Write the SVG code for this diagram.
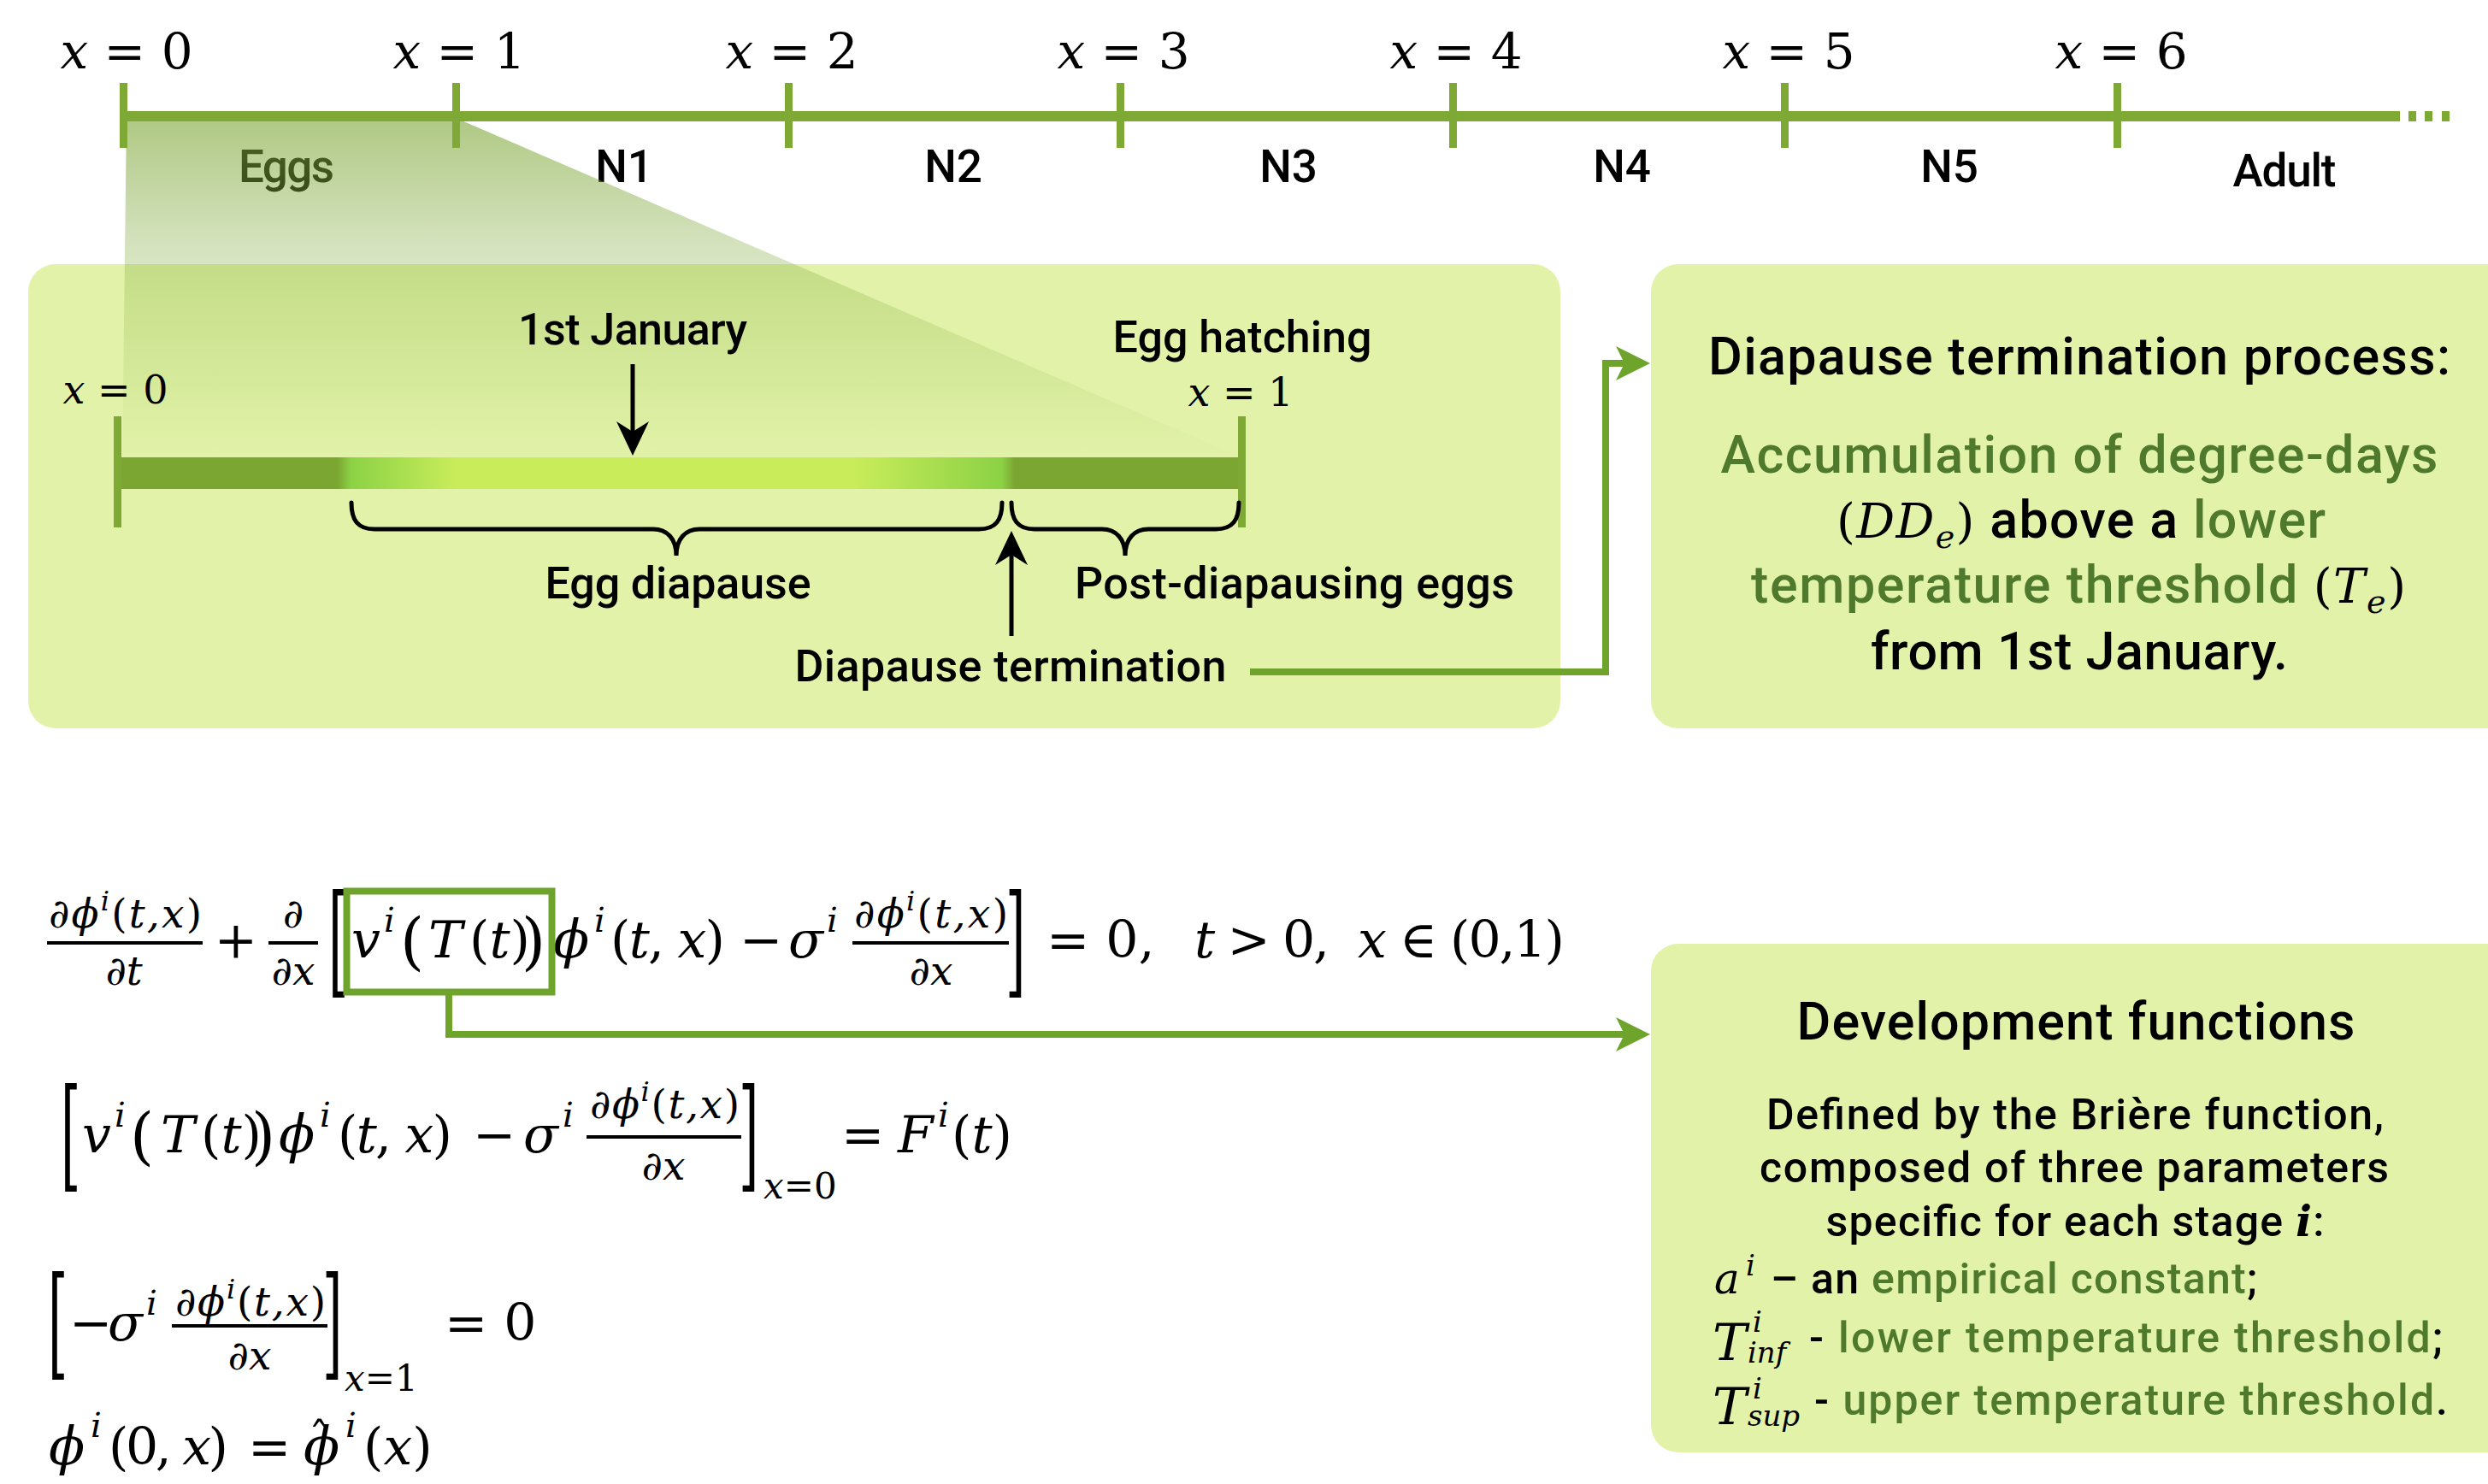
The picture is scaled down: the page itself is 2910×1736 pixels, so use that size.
<svg xmlns="http://www.w3.org/2000/svg" width="2910" height="1736" viewBox="0 0 2910 1736">
<defs>
<style>
.sans{font-family:Roboto,"DejaVu Sans",sans-serif;font-weight:500;fill:#000}
.m{font-family:"DejaVu Serif","Liberation Serif",serif;fill:#000}
.i{font-style:italic}
.g{fill:#4f7a2e}
.ax{fill:#7fa935}
.box{fill:#e2f3a9}
.conn{fill:none;stroke:#6ea42c;stroke-width:8}
.blk{fill:none;stroke:#000;stroke-width:5}
.brace{fill:none;stroke:#000;stroke-width:5;stroke-linecap:round}
</style>
<linearGradient id="zoomFade" gradientUnits="userSpaceOnUse" x1="0" y1="136" x2="0" y2="540">
<stop offset="0" stop-color="#7fa83a" stop-opacity="0.63"/>
<stop offset="0.36" stop-color="#7fa83a" stop-opacity="0.34"/>
<stop offset="1" stop-color="#7fa83a" stop-opacity="0"/>
</linearGradient>
<linearGradient id="barGrad" gradientUnits="userSpaceOnUse" x1="137" y1="0" x2="1452" y2="0">
<stop offset="0" stop-color="#7ba632"/>
<stop offset="0.196" stop-color="#7ba632"/>
<stop offset="0.208" stop-color="#8cd245"/>
<stop offset="0.3" stop-color="#c8ec5a"/>
<stop offset="0.657" stop-color="#c8ec5a"/>
<stop offset="0.787" stop-color="#8cd245"/>
<stop offset="0.798" stop-color="#7ba632"/>
<stop offset="1" stop-color="#7ba632"/>
</linearGradient>
<marker id="gHead" markerUnits="userSpaceOnUse" viewBox="0 0 40 40" refX="10" refY="20" markerWidth="40" markerHeight="40" orient="auto"><path d="M0,0 L40,20 L0,40 L10,20 z" fill="#6ea42c"/></marker>
<marker id="kHead" markerUnits="userSpaceOnUse" viewBox="0 0 40 40" refX="12" refY="20" markerWidth="40" markerHeight="40" orient="auto"><path d="M0,1 L40,20 L0,39 L12,20 z" fill="#000"/></marker>
</defs>
<rect width="2910" height="1736" fill="#fff"/>

<g id="timeline">
<rect class="ax" x="140" y="130" width="2667" height="12"/>
<rect class="ax" x="2817" y="130" width="9" height="12"/>
<rect class="ax" x="2836" y="130" width="9" height="12"/>
<rect class="ax" x="2856" y="130" width="9" height="12"/>
<rect class="ax" x="140" y="97" width="9" height="76"/>
<rect class="ax" x="529" y="97" width="9" height="76"/>
<rect class="ax" x="918" y="97" width="9" height="76"/>
<rect class="ax" x="1306" y="97" width="9" height="76"/>
<rect class="ax" x="1695" y="97" width="9" height="76"/>
<rect class="ax" x="2083" y="97" width="9" height="76"/>
<rect class="ax" x="2472" y="97" width="9" height="76"/>
<text class="m" x="148" y="80" font-size="58" text-anchor="middle"><tspan class="i">x</tspan> = 0</text>
<text class="m" x="537" y="80" font-size="58" text-anchor="middle"><tspan class="i">x</tspan> = 1</text>
<text class="m" x="926" y="80" font-size="58" text-anchor="middle"><tspan class="i">x</tspan> = 2</text>
<text class="m" x="1314" y="80" font-size="58" text-anchor="middle"><tspan class="i">x</tspan> = 3</text>
<text class="m" x="1703" y="80" font-size="58" text-anchor="middle"><tspan class="i">x</tspan> = 4</text>
<text class="m" x="2092" y="80" font-size="58" text-anchor="middle"><tspan class="i">x</tspan> = 5</text>
<text class="m" x="2481" y="80" font-size="58" text-anchor="middle"><tspan class="i">x</tspan> = 6</text>
<text class="sans" x="335" y="213" font-size="53" text-anchor="middle" textLength="112">Eggs</text>
<text class="sans" x="730" y="213" font-size="53" text-anchor="middle">N1</text>
<text class="sans" x="1115" y="213" font-size="53" text-anchor="middle">N2</text>
<text class="sans" x="1507" y="213" font-size="53" text-anchor="middle">N3</text>
<text class="sans" x="1897" y="213" font-size="53" text-anchor="middle">N4</text>
<text class="sans" x="2280" y="213" font-size="53" text-anchor="middle">N5</text>
<text class="sans" x="2672" y="218" font-size="53" text-anchor="middle" textLength="121">Adult</text>
</g>

<g id="egg-box">
<rect class="box" x="33" y="309" width="1792" height="543" rx="32"/>
</g>

<g id="zoom-callout">
<polygon points="148,138 533,138 1452,535 143,535" fill="url(#zoomFade)"/>
</g>

<g id="egg-detail">
<rect x="137" y="535" width="1315" height="37" fill="url(#barGrad)"/>
<rect class="ax" x="133" y="487" width="9" height="130"/>
<rect class="ax" x="1448" y="487" width="9" height="130"/>
<text class="m" x="135" y="472" font-size="46" text-anchor="middle"><tspan class="i">x</tspan> = 0</text>
<text class="m" x="1451" y="475" font-size="46" text-anchor="middle"><tspan class="i">x</tspan> = 1</text>
<text class="sans" x="740" y="403" font-size="52" text-anchor="middle" textLength="268">1st January</text>
<text class="sans" x="1453" y="412" font-size="52" text-anchor="middle" textLength="303">Egg hatching</text>
<path class="blk" d="M740,426 V505" marker-end="url(#kHead)"/>
<path class="brace" d="M411,588 C411,608 418,619 438,619 H764 C780,619 791,630 791,650 C791,630 802,619 818,619 H1145 C1165,619 1172,608 1172,588"/>
<path class="brace" d="M1183,588 C1183,608 1190,619 1210,619 H1289 C1305,619 1316,630 1316,650 C1316,630 1327,619 1343,619 H1422 C1442,619 1449,608 1449,588"/>
<path class="blk" d="M1183,744 V649" marker-end="url(#kHead)"/>
<text class="sans" x="793" y="700" font-size="52" text-anchor="middle" textLength="311">Egg diapause</text>
<text class="sans" x="1514" y="700" font-size="52" text-anchor="middle" textLength="514">Post-diapausing eggs</text>
<text class="sans" x="1182" y="797" font-size="52" text-anchor="middle" textLength="505">Diapause termination</text>
</g>

<g id="diapause-box">
<rect class="box" x="1931" y="309" width="1040" height="543" rx="32"/>
<text class="sans" x="2432" y="438" font-size="61" text-anchor="middle" textLength="868">Diapause termination process:</text>
<text class="sans g" x="2432" y="553" font-size="61" text-anchor="middle" textLength="839">Accumulation of degree-days</text>
<text class="sans" x="2434" y="629" font-size="61" text-anchor="middle" textLength="572"><tspan class="m" font-size="56">(</tspan><tspan class="m i" font-size="56">DD</tspan><tspan class="m i" font-size="38" dy="12">e</tspan><tspan class="m" font-size="56" dy="-12">)</tspan> above a <tspan class="g">lower</tspan></text>
<text class="sans g" x="2431" y="705" font-size="61" text-anchor="middle" textLength="766">temperature threshold <tspan class="m" fill="#000" font-size="56">(</tspan><tspan class="m i" fill="#000" font-size="56">T</tspan><tspan class="m i" fill="#000" font-size="38" dy="12">e</tspan><tspan class="m" fill="#000" font-size="56" dy="-12">)</tspan></text>
<text class="sans" x="2432" y="783" font-size="61" text-anchor="middle" textLength="488">from 1st January.</text>
</g>

<g id="development-box">
<rect class="box" x="1931" y="1104" width="1040" height="595" rx="32"/>
<text class="sans" x="2428" y="1216" font-size="61" text-anchor="middle" textLength="653">Development functions</text>
<text class="sans" x="2427" y="1321" font-size="50" text-anchor="middle" textLength="722">Defined by the Brière function,</text>
<text class="sans" x="2426" y="1383" font-size="50" text-anchor="middle" textLength="736">composed of three parameters</text>
<text class="sans" x="2427" y="1446" font-size="50" text-anchor="middle" textLength="583">specific for each stage <tspan class="m i" font-weight="bold">i</tspan>:</text>
<text class="m i" x="2005" y="1513" font-size="50">a</text>
<text class="m i" x="2042" y="1492" font-size="34">i</text>
<text class="sans" x="2071" y="1513" font-size="50" textLength="569">– an <tspan class="g">empirical constant</tspan>;</text>
<text class="m i" x="2003" y="1591" font-size="60">T</text>
<text class="m i" x="2050" y="1558" font-size="34">i</text>
<text class="m i" x="2044" y="1594" font-size="34">inf</text>
<text class="sans" x="2116" y="1582" font-size="50" textLength="741">- <tspan class="g">lower temperature threshold</tspan>;</text>
<text class="m i" x="2003" y="1666" font-size="60">T</text>
<text class="m i" x="2050" y="1636" font-size="34">i</text>
<text class="m i" x="2044" y="1668" font-size="34">sup</text>
<text class="sans" x="2122" y="1655" font-size="50" textLength="741">- <tspan class="g">upper temperature threshold</tspan>.</text>
</g>

<g id="equations">
<!-- Eq 1 -->
<text class="m i" x="57" y="1085" font-size="47" textLength="179">∂ϕ<tspan font-size="32" dy="-20">i</tspan><tspan dy="20" font-style="normal">(</tspan>t,x<tspan font-style="normal">)</tspan></text>
<rect x="55" y="1101" width="182" height="4"/>
<text class="m i" x="145" y="1152" font-size="47" text-anchor="middle">∂t</text>
<text class="m" x="276" y="1120" font-size="60" text-anchor="middle">+</text>
<rect x="314" y="1101" width="58" height="4"/>
<text class="m i" x="343" y="1085" font-size="47" text-anchor="middle">∂</text>
<text class="m i" x="343" y="1152" font-size="47" text-anchor="middle">∂x</text>
<text class="m" font-size="60" transform="translate(384,1148) scale(1,2.36)">[</text>
<text class="m i" x="411" y="1120" font-size="60">v</text>
<text class="m i" x="449" y="1090" font-size="40">i</text>
<text class="m" x="468" y="1126" font-size="72">(</text>
<text class="m i" x="501" y="1120" font-size="60">T</text>
<text class="m" x="549" y="1120" font-size="60">(<tspan class="i">t</tspan>)</text>
<text class="m" x="610" y="1126" font-size="72">)</text>
<text class="m i" x="647" y="1120" font-size="62">ϕ</text>
<text class="m i" x="695" y="1090" font-size="40">i</text>
<text class="m" x="714" y="1120" font-size="60" textLength="134">(<tspan class="i">t</tspan>, <tspan class="i">x</tspan>)</text>
<text class="m" x="865" y="1120" font-size="60">−</text>
<text class="m i" x="922" y="1120" font-size="60">σ</text>
<text class="m i" x="967" y="1090" font-size="40">i</text>
<text class="m i" x="999" y="1085" font-size="47" textLength="180">∂ϕ<tspan font-size="32" dy="-20">i</tspan><tspan dy="20" font-style="normal">(</tspan>t,x<tspan font-style="normal">)</tspan></text>
<rect x="997" y="1101" width="183" height="4"/>
<text class="m i" x="1089" y="1152" font-size="47" text-anchor="middle">∂x</text>
<text class="m" font-size="60" transform="translate(1176,1148) scale(1,2.36)">]</text>
<text class="m" x="1224" y="1120" font-size="60">= 0,</text>
<text class="m" x="1397" y="1120" font-size="60" textLength="158"><tspan class="i">t</tspan> &gt; 0,</text>
<text class="m" x="1588" y="1120" font-size="60" textLength="242"><tspan class="i">x</tspan> ∈ (0,1)</text>

<!-- Eq 2 -->
<text class="m" font-size="60" transform="translate(71,1375) scale(1,2.36)">[</text>
<text class="m i" x="96" y="1348" font-size="60">v</text>
<text class="m i" x="134" y="1318" font-size="40">i</text>
<text class="m" x="152" y="1354" font-size="72">(</text>
<text class="m i" x="188" y="1348" font-size="60">T</text>
<text class="m" x="235" y="1348" font-size="60">(<tspan class="i">t</tspan>)</text>
<text class="m" x="294" y="1354" font-size="72">)</text>
<text class="m i" x="326" y="1348" font-size="62">ϕ</text>
<text class="m i" x="374" y="1318" font-size="40">i</text>
<text class="m" x="395" y="1348" font-size="60" textLength="134">(<tspan class="i">t</tspan>, <tspan class="i">x</tspan>)</text>
<text class="m" x="553" y="1348" font-size="60">−</text>
<text class="m i" x="612" y="1348" font-size="60">σ</text>
<text class="m i" x="658" y="1318" font-size="40">i</text>
<text class="m i" x="690" y="1308" font-size="47" textLength="175">∂ϕ<tspan font-size="32" dy="-20">i</tspan><tspan dy="20" font-style="normal">(</tspan>t,x<tspan font-style="normal">)</tspan></text>
<rect x="686" y="1328" width="181" height="4"/>
<text class="m i" x="776" y="1380" font-size="47" text-anchor="middle">∂x</text>
<text class="m" font-size="60" transform="translate(864,1375) scale(1,2.36)">]</text>
<text class="m" x="893" y="1402" font-size="42"><tspan class="i">x</tspan>=0</text>
<text class="m" x="984" y="1348" font-size="60">=</text>
<text class="m i" x="1050" y="1348" font-size="60">F</text>
<text class="m i" x="1097" y="1318" font-size="40">i</text>
<text class="m" x="1113" y="1348" font-size="60">(<tspan class="i">t</tspan>)</text>

<!-- Eq 3 -->
<text class="m" font-size="60" transform="translate(56,1595) scale(1,2.36)">[</text>
<text class="m" x="81" y="1568" font-size="60">−</text>
<text class="m i" x="126" y="1568" font-size="60">σ</text>
<text class="m i" x="171" y="1538" font-size="40">i</text>
<text class="m i" x="205" y="1539" font-size="47" textLength="176">∂ϕ<tspan font-size="32" dy="-20">i</tspan><tspan dy="20" font-style="normal">(</tspan>t,x<tspan font-style="normal">)</tspan></text>
<rect x="201" y="1549" width="182" height="4"/>
<text class="m i" x="292" y="1602" font-size="47" text-anchor="middle">∂x</text>
<text class="m" font-size="60" transform="translate(377,1595) scale(1,2.36)">]</text>
<text class="m" x="403" y="1627" font-size="42"><tspan class="i">x</tspan>=1</text>
<text class="m" x="520" y="1568" font-size="60">= 0</text>

<!-- Eq 4 -->
<text class="m i" x="57" y="1713" font-size="62">ϕ</text>
<text class="m i" x="106" y="1681" font-size="40">i</text>
<text class="m" x="127" y="1713" font-size="60" textLength="140">(0, <tspan class="i">x</tspan>)</text>
<text class="m" x="290" y="1713" font-size="60">=</text>
<text class="m i" x="355" y="1713" font-size="62">ϕ</text>
<text class="m" x="361" y="1700" font-size="50">ˆ</text>
<text class="m i" x="404" y="1681" font-size="40">i</text>
<text class="m" x="425" y="1713" font-size="60">(<tspan class="i">x</tspan>)</text>
</g>

<g id="connectors">
<path class="conn" d="M1462,786 H1878 V425 H1900" marker-end="url(#gHead)"/>
<rect x="405.5" y="1042.5" width="240" height="118" fill="none" stroke="#6ea42c" stroke-width="8"/>
<path class="conn" d="M525,1164 V1210 H1900" marker-end="url(#gHead)"/>
</g>
</svg>
